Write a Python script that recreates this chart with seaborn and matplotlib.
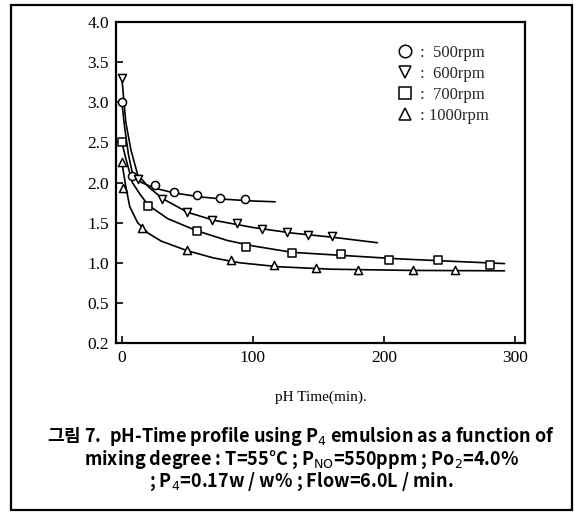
import matplotlib
matplotlib.use("Agg")
import matplotlib.pyplot as plt
from matplotlib.lines import Line2D
from matplotlib.patches import Rectangle
import seaborn as sns
import numpy as np
import pandas as pd

# ---- data ----
t_500 = [0, 8, 25, 40, 57, 75, 94]
ph_500 = [3.0, 2.08, 1.97, 1.88, 1.85, 1.81, 1.79]
t_600 = [0, 12, 31, 50, 69, 88, 107, 126, 142, 160]
ph_600 = [3.3, 2.05, 1.79, 1.63, 1.53, 1.49, 1.42, 1.38, 1.34, 1.33]
t_700 = [0, 20, 57, 95, 130, 167, 204, 241, 281]
ph_700 = [2.5, 1.71, 1.40, 1.20, 1.12, 1.11, 1.04, 1.03, 0.97]
t_1000 = [0, 1, 15, 50, 83, 116, 148, 180, 222, 254]
ph_1000 = [2.25, 1.93, 1.43, 1.16, 1.03, 0.97, 0.93, 0.91, 0.91, 0.91]

# fitted curves
ct_500 = [0, 2, 5, 8, 15, 25, 40, 60, 80, 100, 117]
cp_500 = [3.0, 2.7, 2.35, 2.12, 2.0, 1.93, 1.87, 1.82, 1.79, 1.77, 1.76]
ct_600 = [0, 3, 7, 12, 20, 31, 50, 70, 100, 130, 160, 195]
cp_600 = [3.3, 2.75, 2.4, 2.1, 1.95, 1.80, 1.63, 1.53, 1.44, 1.37, 1.32, 1.25]
ct_700 = [0, 3, 8, 14, 20, 35, 57, 80, 100, 130, 170, 210, 250, 292]
cp_700 = [2.5, 2.3, 2.0, 1.85, 1.72, 1.55, 1.40, 1.28, 1.21, 1.13, 1.09, 1.05, 1.02, 0.99]
ct_1000 = [0, 3, 6, 12, 20, 30, 50, 70, 90, 120, 160, 220, 292]
cp_1000 = [2.25, 1.95, 1.7, 1.5, 1.37, 1.27, 1.15, 1.06, 1.0, 0.95, 0.92, 0.905, 0.9]

series = ["500rpm", "600rpm", "700rpm", "1000rpm"]
markers = ["o", "v", "s", "^"]
legend_labels = [":  500rpm", ":  600rpm", ":  700rpm", ": 1000rpm"]

x_ticks = [0, 100, 200, 300]
y_ticks = [0.0, 0.5, 1.0, 1.5, 2.0, 2.5, 3.0, 3.5, 4.0]
y_ticklabels = ["0.2", "0.5", "1.0", "1.5", "2.0", "2.5", "3.0", "3.5", "4.0"]

pts = {"500rpm": (t_500, ph_500), "600rpm": (t_600, ph_600),
       "700rpm": (t_700, ph_700), "1000rpm": (t_1000, ph_1000)}
curves = {"500rpm": (ct_500, cp_500), "600rpm": (ct_600, cp_600),
          "700rpm": (ct_700, cp_700), "1000rpm": (ct_1000, cp_1000)}

sns.set_theme(style="white")
plt.rcParams["font.family"] = ["Liberation Serif", "DejaVu Serif"]

fig = plt.figure(figsize=(5.75, 5.12), dpi=100)
ax = fig.add_axes([0.2017, 0.330, 0.711, 0.627])

for name, mk in zip(series, markers):
    cx, cy = curves[name]
    sns.lineplot(x=cx, y=cy, ax=ax, color="black", linewidth=1.2, sort=False,
                 estimator=None)
    px, py = pts[name]
    sns.scatterplot(x=px, y=py, ax=ax, marker=mk, s=34, color="white",
                    edgecolor="black", linewidth=1.1, zorder=3)

ax.set_xlim(-4.5, 307.5)
ax.set_ylim(0.0, 4.0)
ax.set_xticks(x_ticks)
ax.set_xticklabels([str(v) for v in x_ticks])
ax.set_yticks(y_ticks)
ax.set_yticklabels(y_ticklabels)
ax.tick_params(direction="in", length=5, width=1.2, colors="black",
               labelsize=12.5, left=True, bottom=True, pad=5)
for sp in ax.spines.values():
    sp.set_color("black")
    sp.set_linewidth(1.6)

ax.set_xlabel("pH Time(min).", fontsize=11, labelpad=18, color="black")
ax.set_ylabel("")

handles = [Line2D([0], [0], marker=m, linestyle="none", markersize=9,
                  markerfacecolor="white", markeredgecolor="black",
                  markeredgewidth=1.1) for m in markers]
ax.legend(handles, legend_labels, loc="upper left", bbox_to_anchor=(0.665, 0.955),
          frameon=False, fontsize=12, handlelength=1.0, handletextpad=0.4,
          labelspacing=0.3, borderpad=0)

cap_font = ["Noto Sans CJK KR", "DejaVu Sans"]
cap_lines = ["그림 7.  pH-Time profile using P$_4$ emulsion as a function of",
             "mixing degree : T=55°C ; P$_{\\mathrm{NO}}$=550ppm ; Po$_2$=4.0%",
             "; P$_4$=0.17w / w% ; Flow=6.0L / min."]
cap_y = [437, 460, 482]
for line, yy in zip(cap_lines, cap_y):
    fig.text(0.524, 1 - yy / 512, line, ha="center", va="center",
             fontsize=13.0, family=cap_font, fontweight="bold", color="black")

fig.patches.append(Rectangle((11 / 575, 2 / 512), 561 / 575, 505 / 512,
                             transform=fig.transFigure, fill=False,
                             edgecolor="black", linewidth=1.6))

fig.savefig("out.png", dpi=100)
